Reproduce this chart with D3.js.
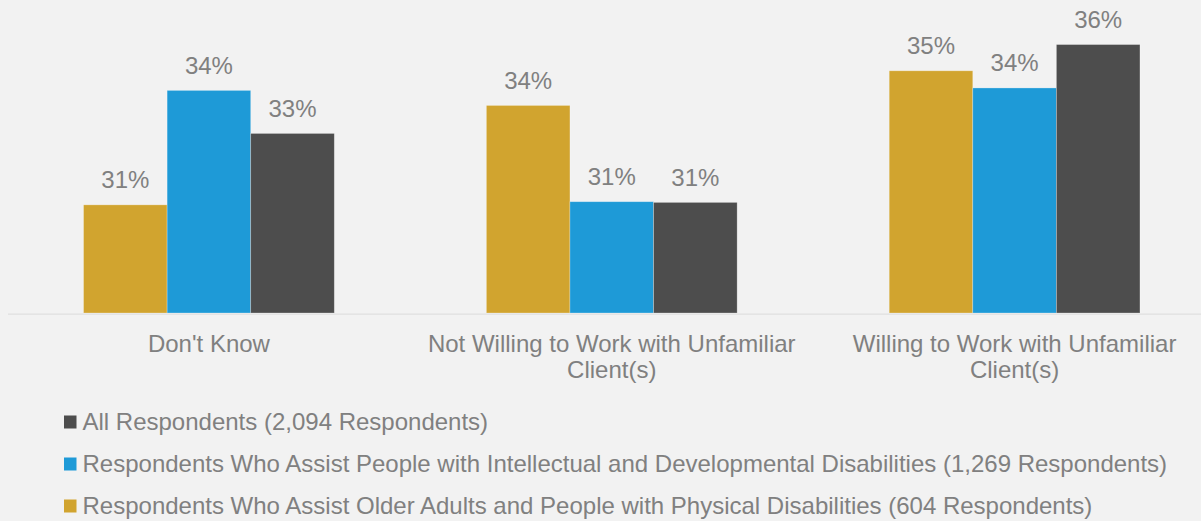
<!DOCTYPE html>
<html>
<head>
<meta charset="utf-8">
<script src="https://cdn.jsdelivr.net/npm/d3@7"></script>
<style>
  html, body { margin: 0; padding: 0; background: #f2f2f2; }
  svg { display: block; font-family: Arial, "Liberation Sans", sans-serif; }
</style>
</head>
<body>
<svg id="chart" width="1201" height="521"></svg>
<script>
// Response categories along the x axis
const categories = [
  "Don't Know",
  "Not Willing to Work with Unfamiliar Client(s)",
  "Willing to Work with Unfamiliar Client(s)"
];

// Share of respondents per group, one value per category
const olderAdults = [0.3109, 0.3393, 0.3492];   // 604 respondents
const iddAssist   = [0.3436, 0.3118, 0.3443];   // 1,269 respondents
const allResp     = [0.3313, 0.3116, 0.3567];   // 2,094 respondents

const seriesNames = [
  "Respondents Who Assist Older Adults and People with Physical Disabilities (604 Respondents)",
  "Respondents Who Assist People with Intellectual and Developmental Disabilities (1,269 Respondents)",
  "All Respondents (2,094 Respondents)"
];
const seriesValues = [olderAdults, iddAssist, allResp];
const seriesColors = ["#d1a42f", "#1e9ad7", "#4d4d4d"];

// Legend lists the series in reverse order
const legendOrder = [2, 1, 0];

const svg = d3.select("#chart");
const textColor = "#808080";
const fontSize = 24;

const baseY = 313;
const x0 = d3.scaleBand()
  .domain(categories)
  .range([7.5, 1216])
  .paddingInner(0.3775)
  .paddingOuter(0.18875);

const x1 = d3.scaleBand()
  .domain(d3.range(seriesValues.length))
  .range([0, x0.bandwidth()]);

const y = d3.scaleLinear()
  .domain([0.28, 0.37])
  .range([baseY, -2]);

const fmt = d3.format(".0%");

// Rows: one record per category with each series value
const rows = categories.map((c, i) => ({
  cat: c,
  vals: seriesValues.map((s, j) => ({ series: j, value: s[i] }))
}));

const groups = svg.append("g").selectAll("g")
  .data(rows)
  .join("g")
  .attr("transform", d => `translate(${x0(d.cat)},0)`);

groups.selectAll("rect")
  .data(d => d.vals)
  .join("rect")
  .attr("x", d => x1(d.series))
  .attr("y", d => y(d.value))
  .attr("width", x1.bandwidth())
  .attr("height", d => baseY - y(d.value))
  .attr("fill", d => seriesColors[d.series])
  .attr("stroke", "rgba(255,255,255,0.35)")
  .attr("stroke-width", 0.75);

groups.selectAll("text.val")
  .data(d => d.vals)
  .join("text")
  .attr("class", "val")
  .attr("x", d => x1(d.series) + x1.bandwidth() / 2)
  .attr("y", d => y(d.value) - 16.5)
  .attr("text-anchor", "middle")
  .attr("font-size", fontSize)
  .attr("fill", textColor)
  .text(d => fmt(d.value));

// Category axis with wrapped labels
const axis = svg.append("g")
  .attr("transform", `translate(0,${baseY + 0.5})`)
  .call(d3.axisBottom(x0).tickSize(0).tickSizeOuter(0));

axis.select(".domain")
  .attr("stroke", "#dfdfdf")
  .attr("stroke-width", 1.25);

axis.selectAll(".tick text")
  .attr("font-size", fontSize)
  .attr("font-family", 'Arial, "Liberation Sans", sans-serif')
  .attr("fill", textColor)
  .attr("dy", null)
  .attr("y", 0)
  .each(function () { wrap(d3.select(this), x0.step() * 0.95); });

function wrap(text, width) {
  const words = text.text().split(/\s+/);
  text.text(null);
  const lines = [];
  let line = [];
  const probe = text.append("tspan");
  words.forEach(w => {
    line.push(w);
    probe.text(line.join(" "));
    if (probe.node().getComputedTextLength() > width && line.length > 1) {
      line.pop();
      lines.push(line.join(" "));
      line = [w];
    }
  });
  lines.push(line.join(" "));
  probe.remove();
  lines.forEach((l, i) => {
    text.append("tspan")
      .attr("x", 0)
      .attr("y", 38.5 + i * 26)
      .text(l);
  });
}

// Legend
const legend = svg.append("g")
  .selectAll("g")
  .data(legendOrder)
  .join("g")
  .attr("transform", (d, i) => `translate(64,${430 + i * 42})`);

legend.append("rect")
  .attr("x", 0)
  .attr("y", -14.5)
  .attr("width", 12.5)
  .attr("height", 13)
  .attr("fill", d => seriesColors[d]);

legend.append("text")
  .attr("x", 18.5)
  .attr("y", 0)
  .attr("font-size", fontSize)
  .attr("fill", textColor)
  .text(d => seriesNames[d]);
</script>
</body>
</html>
